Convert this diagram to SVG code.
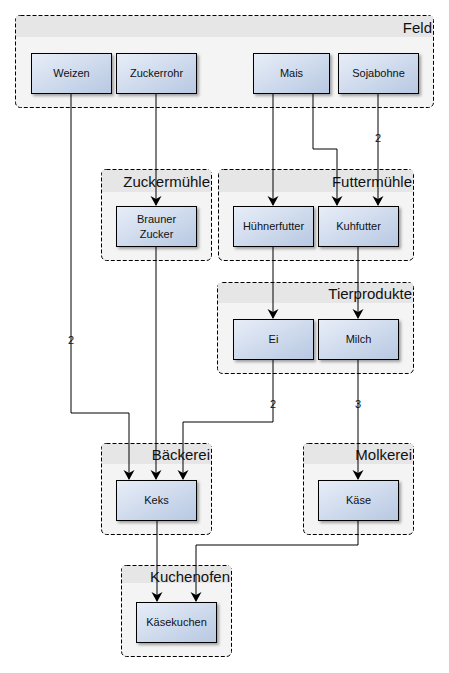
<svg xmlns="http://www.w3.org/2000/svg" width="449" height="673" viewBox="0 0 449 673">
<defs>
<linearGradient id="ng" x1="0" y1="0" x2="1" y2="1">
<stop offset="0" stop-color="#e8eef8"/>
<stop offset="1" stop-color="#b7c8e2"/>
</linearGradient>
<filter id="sh" x="-10%" y="-10%" width="130%" height="140%">
<feGaussianBlur in="SourceAlpha" stdDeviation="1.5"/>
<feOffset dx="2" dy="2" result="b"/>
<feComponentTransfer><feFuncA type="linear" slope="0.35"/></feComponentTransfer>
<feMerge><feMergeNode/><feMergeNode in="SourceGraphic"/></feMerge>
</filter>
<marker id="ah" markerWidth="12" markerHeight="12" refX="9" refY="5.5" orient="auto" markerUnits="userSpaceOnUse">
<path d="M0,0 L10,5.5 L0,11 L3,5.5 Z" fill="#000"/>
</marker>
</defs>
<style>
.grp{fill:#f4f4f4;stroke:#000;stroke-width:1;stroke-dasharray:4,2}
.hdr{fill:#e6e6e6}
.gl{font-family:"Liberation Sans",Arial,sans-serif;font-size:15px;fill:#111;text-anchor:end}
.node{fill:url(#ng);stroke:#000;stroke-width:1;filter:url(#sh)}
.nl{font-family:"Liberation Sans",Arial,sans-serif;font-size:11px;fill:#111;text-anchor:middle}
.e{fill:none;stroke:#000;stroke-width:1}
.ea{fill:none;stroke:#000;stroke-width:1;marker-end:url(#ah)}
.el{font-family:"Liberation Sans",Arial,sans-serif;font-size:11px;fill:#111;text-anchor:middle}
</style>
<rect width="449" height="673" fill="#fff"/>

<g id="Feld">
<rect class="grp" x="15.5" y="15.5" width="418" height="92" rx="5"/>
<rect class="hdr" x="16" y="16" width="417" height="21"/>
<text class="gl" x="432" y="33">Feld</text>
</g>
<g id="Zuckermuehle">
<rect class="grp" x="101.5" y="169.5" width="110" height="91" rx="5"/>
<rect class="hdr" x="102" y="170" width="109" height="22"/>
<text class="gl" x="210" y="187">Zuckermühle</text>
</g>
<g id="Futtermuehle">
<rect class="grp" x="218.5" y="169.5" width="195" height="91" rx="5"/>
<rect class="hdr" x="219" y="170" width="194" height="22"/>
<text class="gl" x="412" y="187">Futtermühle</text>
</g>
<g id="Tierprodukte">
<rect class="grp" x="217.5" y="282.5" width="196" height="91" rx="5"/>
<rect class="hdr" x="218" y="283" width="195" height="20"/>
<text class="gl" x="412" y="299">Tierprodukte</text>
</g>
<g id="Baeckerei">
<rect class="grp" x="101.5" y="443.5" width="110" height="91" rx="5"/>
<rect class="hdr" x="102" y="444" width="109" height="20"/>
<text class="gl" x="210" y="460">Bäckerei</text>
</g>
<g id="Molkerei">
<rect class="grp" x="303.5" y="443.5" width="110" height="91" rx="5"/>
<rect class="hdr" x="304" y="444" width="109" height="20"/>
<text class="gl" x="412" y="460">Molkerei</text>
</g>
<g id="Kuchenofen">
<rect class="grp" x="121.5" y="565.5" width="110" height="91" rx="5"/>
<rect class="hdr" x="122" y="566" width="109" height="17"/>
<text class="gl" x="230" y="582">Kuchenofen</text>
</g>

<g id="connectors">
<polyline class="ea" points="71,93 71,413 129,413 129,479"/>
<text class="el" x="71" y="344">2</text>
<polyline class="ea" points="156,93 156,205"/>
<polyline class="ea" points="273,93 273,205"/>
<polyline class="ea" points="313,93 313,149 337,149 337,205"/>
<polyline class="ea" points="378,93 378,205"/>
<text class="el" x="378" y="142">2</text>
<polyline class="ea" points="156,246 156,479"/>
<polyline class="ea" points="273,246 273,318"/>
<polyline class="ea" points="358,246 358,318"/>
<polyline class="ea" points="273,359 273,422 183,422 183,479"/>
<text class="el" x="273" y="408">2</text>
<polyline class="ea" points="358,359 358,479"/>
<text class="el" x="358" y="408">3</text>
<polyline class="ea" points="157,520 157,601"/>
<polyline class="ea" points="358,520 358,545 196,545 196,601"/>
</g>

<g id="Weizen"><rect class="node" x="31.5" y="53.5" width="80" height="40"/><text class="nl" x="71.5" y="77">Weizen</text></g>
<g id="Zuckerrohr"><rect class="node" x="116.5" y="53.5" width="80" height="40"/><text class="nl" x="156.5" y="77">Zuckerrohr</text></g>
<g id="Mais"><rect class="node" x="253.5" y="53.5" width="76" height="40"/><text class="nl" x="291.5" y="77">Mais</text></g>
<g id="Sojabohne"><rect class="node" x="338.5" y="53.5" width="80" height="40"/><text class="nl" x="378.5" y="77">Sojabohne</text></g>
<g id="BraunerZucker"><rect class="node" x="116.5" y="206.5" width="80" height="40"/><text class="nl" x="156.5" y="223">Brauner</text><text class="nl" x="156.5" y="238">Zucker</text></g>
<g id="Huehnerfutter"><rect class="node" x="233.5" y="206.5" width="80" height="40"/><text class="nl" x="273.5" y="230">Hühnerfutter</text></g>
<g id="Kuhfutter"><rect class="node" x="318.5" y="206.5" width="80" height="40"/><text class="nl" x="358.5" y="230">Kuhfutter</text></g>
<g id="Ei"><rect class="node" x="233.5" y="319.5" width="80" height="40"/><text class="nl" x="273.5" y="343">Ei</text></g>
<g id="Milch"><rect class="node" x="318.5" y="319.5" width="80" height="40"/><text class="nl" x="358.5" y="343">Milch</text></g>
<g id="Keks"><rect class="node" x="116.5" y="480.5" width="80" height="40"/><text class="nl" x="156.5" y="504">Keks</text></g>
<g id="Kaese"><rect class="node" x="318.5" y="480.5" width="80" height="40"/><text class="nl" x="358.5" y="504">Käse</text></g>
<g id="Kaesekuchen"><rect class="node" x="136.5" y="602.5" width="80" height="40"/><text class="nl" x="176.5" y="626">Käsekuchen</text></g>
</svg>
